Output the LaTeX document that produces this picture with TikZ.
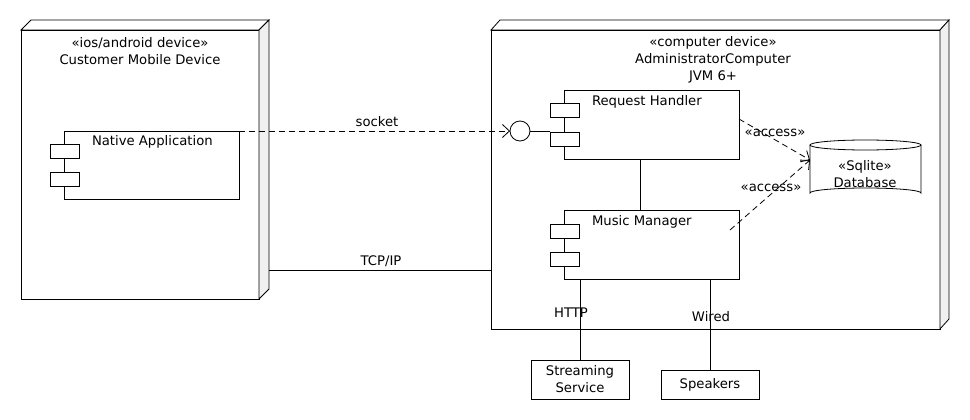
\documentclass[tikz,border=0pt]{standalone}
\usepackage{fontspec}
\setmainfont{DejaVu Sans}
\usetikzlibrary{arrows.meta,calc}
\begin{document}
\begin{tikzpicture}[x=1pt,y=-1pt,line width=0.8pt,
  every node/.style={font=\fontsize{13.2}{17}\selectfont, inner sep=0pt, outer sep=0pt},
  frontface/.style={draw, fill=white, rectangle},
  comp/.style={draw, fill=white, rectangle},
  port/.style={draw, fill=white, rectangle, minimum width=29pt, minimum height=14pt},
  plainbox/.style={draw, fill=white, rectangle, align=center},
  dep/.style={dash pattern=on 6pt off 4pt, -{Straight Barb[length=7pt,width=13pt]}},
  complbl/.style={anchor=west}]
\useasboundingbox (0,0) rectangle (970,420);
% --- left device
\node[frontface, minimum width=238pt, minimum height=269pt] (cust) at (140,164.5) {};
\draw[fill=white] (cust.north west) -- ++(10,-10) -- ($(cust.north east)+(10,-10)$) -- (cust.north east) -- cycle;
\draw[fill=gray!12] (cust.north east) -- ++(10,-10) -- ($(cust.south east)+(10,-10)$) -- (cust.south east) -- cycle;
\node[align=center] (custtitle) at (140,51) {«ios/android device»\\Customer Mobile Device};
% --- right device
\node[frontface, minimum width=449pt, minimum height=299pt] (admin) at (715.5,179.5) {};
\draw[fill=white] (admin.north west) -- ++(9,-10) -- ($(admin.north east)+(9,-10)$) -- (admin.north east) -- cycle;
\draw[fill=gray!12] (admin.north east) -- ++(9,-10) -- ($(admin.south east)+(9,-10)$) -- (admin.south east) -- cycle;
\node[align=center] (admintitle) at (713,60) {«computer device»\\AdministratorComputer\\JVM 6+};
% --- Native application
\node[comp, minimum width=175pt, minimum height=68pt] (nat) at (151.5,165) {};
\node[port] (natp1) at (64.5,151) {};
\node[port] (natp2) at (64.5,179) {};
\node[complbl] (natlbl) at (92,142) {Native Application};
% --- Request handler
\node[comp, minimum width=175pt, minimum height=69pt] (req) at (651.5,124.5) {};
\node[port] (reqp1) at (564.5,110.5) {};
\node[port] (reqp2) at (564.5,139.5) {};
\node[complbl] (reqlbl) at (592,102) {Request Handler};
% --- Music manager
\node[comp, minimum width=175pt, minimum height=69pt] (mus) at (651.5,244.5) {};
\node[port] (musp1) at (564.5,231) {};
\node[port] (musp2) at (564.5,259) {};
\node[complbl] (muslbl) at (592,222) {Music Manager};
% --- interface
\node[draw, circle, minimum size=20pt, fill=white] (iface) at (520,131) {};
\coordinate (ifaceend) at (550,131);
\draw (iface.east) -- (ifaceend);
\coordinate (natout) at (239,131);
\draw[dep] (natout) -- (iface.west);
\node (socketlbl) at (377,122) {socket};
% --- req to mus
\draw (req.south -| 640,0) -- (mus.north -| 640,0);
% --- TCP/IP
\coordinate (custside) at (269,270);
\coordinate (adminside) at (491,270);
\draw (custside) -- (adminside);
\node (tcplbl) at (381,261) {TCP/IP};
% --- database
\node[minimum width=110pt, minimum height=58pt] (db) at (865,169) {};
\draw[fill=white] (810,145) -- (810,193) arc[start angle=180, end angle=360, x radius=55.5, y radius=5] -- (921,145);
\draw[fill=white] (865.5,145) ellipse[x radius=55.5, y radius=5];
\node[align=center] (dblbl) at (865,174) {«Sqlite»\\Database};
\coordinate (dbin) at (810,160);
\coordinate (reqout) at (739,119);
\coordinate (musout) at (730,230);
\draw[dep] (reqout) -- (dbin);
\draw[dep] (musout) -- (dbin);
\node (acc1) at (775,133) {«access»};
\node (acc2) at (771,188) {«access»};
% --- external boxes
\node[plainbox, minimum width=98pt, minimum height=39pt] (stream) at (580,379.5) {Streaming\\Service};
\node[plainbox, minimum width=98pt, minimum height=29pt] (spk) at (710,384.5) {Speakers};
\draw (mus.south -| stream.north) -- (stream.north);
\draw (mus.south -| spk.north) -- (spk.north);
\node (httplbl) at (571,313) {HTTP};
\node (wiredlbl) at (711,317) {Wired};
\end{tikzpicture}
\end{document}
